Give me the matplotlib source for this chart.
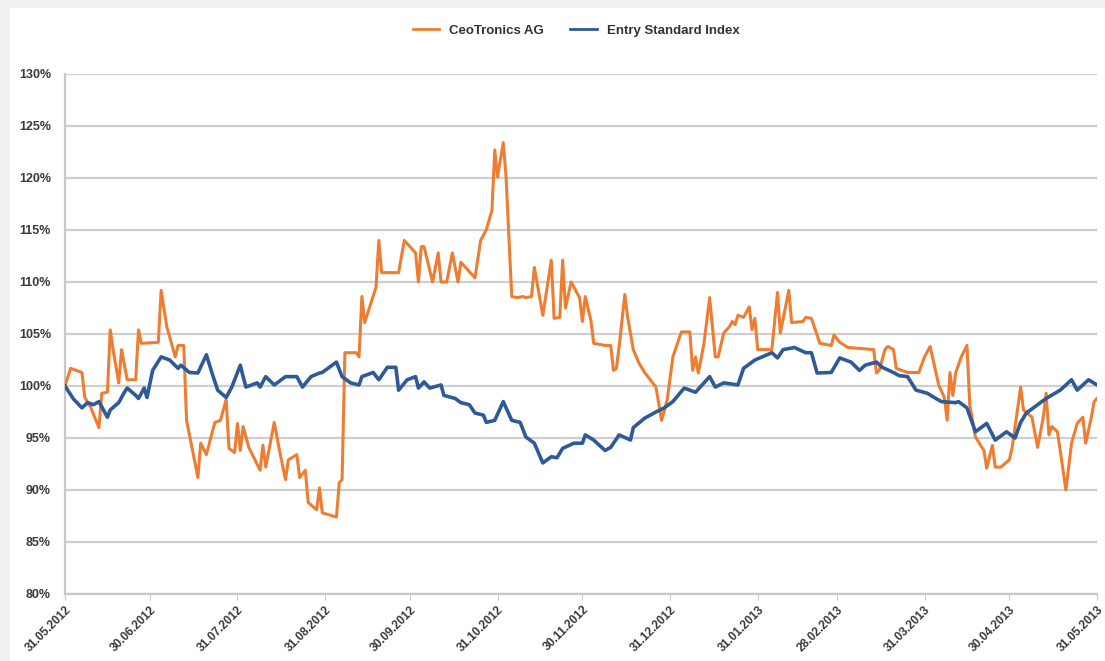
import numpy as np
import pandas as pd
import matplotlib
matplotlib.use("Agg")
import matplotlib.pyplot as plt
from matplotlib.patches import Rectangle

plt.rcParams['font.family'] = ['Liberation Sans', 'DejaVu Sans']

start = pd.Timestamp('2012-05-31')

# CeoTronics AG, days after 31.05.2012 and value in %
ceo_days = [0, 2, 6, 7, 9, 12, 13, 15, 16, 17, 19, 20, 22, 25, 26, 27, 33, 34, 36, 39,
            40, 42, 43, 47, 48, 50, 53, 55, 57, 58, 60, 61, 62, 63, 65, 69, 70, 71, 74, 76,
            78, 79, 82, 83, 85, 86, 89, 90, 91, 96, 97, 98, 99, 103, 104, 105, 106, 110, 111, 112,
            118, 120, 124, 125, 126, 127, 130, 132, 133, 135, 137, 139, 140, 145, 147, 149, 151, 152, 153, 155,
            156, 158, 160, 162, 163, 165, 166, 169, 172, 173, 175, 176, 177, 179, 182, 183, 184, 186, 187, 191,
            193, 194, 195, 196, 198, 199, 201, 203, 205, 209, 211, 213, 215, 218, 221, 222, 223, 224, 226, 228,
            230, 231, 233, 235, 236, 237, 238, 240, 242, 243, 244, 245, 250, 252, 253, 256, 257, 261, 262, 264,
            267, 271, 272, 274, 277, 286, 287, 288, 290, 291, 293, 294, 298, 302, 304, 306, 309, 311, 312, 313,
            314, 315, 317, 319, 320, 322, 325, 326, 328, 329, 331, 334, 335, 338, 339, 342, 344, 346, 347, 348,
            349, 351, 352, 354, 356, 358, 360, 361, 363, 364, 365]
ceo_vals = [100.0, 101.7, 101.3, 98.9, 98.0, 96.0, 99.3, 99.4, 105.4, 103.5, 100.3, 103.5, 100.6, 100.6, 105.4, 104.1, 104.2, 109.2, 105.7, 102.8,
            103.9, 103.9, 96.7, 91.2, 94.5, 93.4, 96.5, 96.7, 98.7, 94.0, 93.6, 96.4, 93.8, 96.1, 94.1, 91.9, 94.3, 92.2, 96.5, 93.6,
            91.0, 92.9, 93.4, 91.2, 91.9, 88.8, 88.1, 90.2, 87.8, 87.4, 90.7, 91.0, 103.2, 103.2, 102.8, 108.6, 106.1, 109.5, 114.0, 110.9,
            110.9, 114.0, 112.8, 110.0, 113.4, 113.4, 110.0, 112.8, 110.0, 110.0, 112.8, 110.0, 111.9, 110.4, 114.0, 115.0, 116.9, 122.7, 120.1, 123.4,
            120.1, 108.6, 108.5, 108.6, 108.5, 108.6, 111.4, 106.8, 112.1, 106.5, 106.6, 112.1, 107.5, 110.0, 108.5, 106.2, 108.6, 106.3, 104.1, 103.9,
            103.9, 101.5, 101.7, 103.8, 108.8, 106.6, 103.5, 102.2, 101.3, 99.9, 96.7, 98.7, 102.8, 105.2, 105.2, 101.5, 102.8, 101.25, 104.1, 108.5,
            102.8, 102.8, 105.1, 105.7, 106.2, 105.9, 106.8, 106.6, 107.6, 105.4, 106.5, 103.5, 103.5, 109.0, 105.1, 109.2, 106.1, 106.2, 106.6, 106.5,
            104.1, 103.9, 104.9, 104.2, 103.7, 103.5, 101.25, 101.5, 103.5, 103.8, 103.5, 101.7, 101.3, 101.3, 102.8, 103.8, 100.1, 98.9, 96.7, 101.3,
            99.1, 101.25, 102.8, 103.9, 98.2, 95.1, 93.8, 92.1, 94.3, 92.2, 92.2, 92.9, 94.1, 99.9, 97.7, 97.0, 94.1, 97.0, 99.3, 95.3,
            96.1, 95.6, 93.8, 90.0, 94.5, 96.4, 97.0, 94.5, 97.0, 98.5, 98.8]

# Entry Standard Index
esi_days = [0, 3, 6, 8, 10, 12, 15, 16, 19, 21, 22, 25, 26, 28, 29, 31, 34, 37, 40, 41,
            44, 47, 50, 52, 54, 57, 59, 62, 63, 64, 68, 69, 71, 74, 78, 82, 84, 87, 90, 91,
            96, 98, 101, 104, 105, 109, 111, 114, 117, 118, 121, 124, 125, 127, 129, 133, 134, 138, 140, 143,
            145, 148, 149, 152, 155, 158, 161, 163, 166, 169, 172, 174, 176, 180, 183, 184, 187, 191, 193, 196,
            200, 201, 205, 209, 212, 215, 219, 223, 228, 230, 233, 238, 240, 244, 250, 252, 254, 258, 262, 264,
            266, 271, 274, 278, 281, 283, 287, 289, 293, 295, 298, 301, 305, 308, 310, 315, 316, 319, 322, 326,
            329, 333, 336, 338, 340, 344, 347, 352, 356, 358, 362, 365]
esi_vals = [100.0, 98.75, 97.9, 98.4, 98.2, 98.5, 97.0, 97.7, 98.4, 99.4, 99.8, 99.1, 98.8, 99.8, 98.9, 101.5, 102.8, 102.5, 101.7, 102.0,
            101.3, 101.25, 103.0, 101.25, 99.6, 98.9, 99.9, 102.0, 100.9, 99.9, 100.3, 99.9, 100.9, 100.1, 100.9, 100.9, 99.9, 100.9, 101.25, 101.3,
            102.3, 100.9, 100.3, 100.1, 100.9, 101.3, 100.6, 101.8, 101.8, 99.6, 100.6, 100.9, 99.8, 100.4, 99.8, 100.1, 99.1, 98.8, 98.4, 98.2,
            97.4, 97.2, 96.5, 96.7, 98.5, 96.7, 96.5, 95.1, 94.5, 92.6, 93.2, 93.1, 94.0, 94.5, 94.5, 95.3, 94.8, 93.8, 94.1, 95.3,
            94.8, 96.0, 96.9, 97.5, 97.9, 98.5, 99.8, 99.4, 100.9, 99.9, 100.3, 100.1, 101.7, 102.5, 103.2, 102.7, 103.5, 103.7, 103.2, 103.2,
            101.25, 101.3, 102.7, 102.3, 101.5, 102.0, 102.3, 101.8, 101.3, 101.0, 100.9, 99.6, 99.3, 98.8, 98.5, 98.4, 98.5, 97.9, 95.6, 96.4,
            94.8, 95.6, 95.0, 96.5, 97.4, 98.2, 98.8, 99.6, 100.6, 99.6, 100.6, 100.1]

series_names = ['CeoTronics AG', 'Entry Standard Index']
tick_labels = ['31.05.2012', '30.06.2012', '31.07.2012', '31.08.2012', '30.09.2012', '31.10.2012',
               '30.11.2012', '31.12.2012', '31.01.2013', '28.02.2013', '31.03.2013', '30.04.2013', '31.05.2013']
y_ticks = [80, 85, 90, 95, 100, 105, 110, 115, 120, 125, 130]

ceo_x = start + pd.to_timedelta(ceo_days, unit='D')
esi_x = start + pd.to_timedelta(esi_days, unit='D')
tick_dates = pd.to_datetime(tick_labels, format='%d.%m.%Y')

fig = plt.figure(figsize=(11.05, 6.61), dpi=100, facecolor='#eef0f1')
fig.patches.append(Rectangle((10 / 1105, 0), 1, 1 - 8 / 661, transform=fig.transFigure,
                             facecolor='white', edgecolor='none', zorder=-5))
ax = fig.add_axes([65 / 1105, 1 - 594 / 661, 1032 / 1105, 520 / 661])
ax.set_facecolor('white')

ax.plot(ceo_x, ceo_vals, color='#ee7d31', lw=2.2, label=series_names[0], zorder=3)
ax.plot(esi_x, esi_vals, color='#2e5b97', lw=2.6, label=series_names[1], zorder=4)

ax.set_xlim(start, tick_dates[-1])
ax.set_ylim(80, 130)
ax.set_yticks(y_ticks)
ax.set_yticklabels([f'{v}%' for v in y_ticks], fontsize=9, fontweight='bold', color='#3a3a3a')
ax.set_xticks(tick_dates)
ax.set_xticklabels(tick_labels, rotation=45, ha='right', va='top', rotation_mode='anchor',
                   fontsize=8.5, fontweight='bold', color='#3a3a3a')
ax.tick_params(axis='y', length=0, pad=10)
ax.tick_params(axis='x', length=4, color='#c8c8c8', pad=3)

ax.grid(axis='y', color='#cfcfcf', lw=1.6)
ax.set_axisbelow(True)
for s in ['top', 'right']:
    ax.spines[s].set_visible(False)
for s in ['left', 'bottom']:
    ax.spines[s].set_color('#c8c8c8')
    ax.spines[s].set_linewidth(1.6)

leg = fig.legend(loc='center', bbox_to_anchor=(576 / 1105, 1 - 31 / 661), ncol=2, frameon=False,
                 prop={'size': 9.5, 'weight': 'bold'}, handlelength=2.0, handletextpad=0.75,
                 columnspacing=2.0)
for t in leg.get_texts():
    t.set_color('#333333')
for h in leg.legend_handles:
    h.set_linewidth(2.0)

fig.savefig('out.png', dpi=100, facecolor=fig.get_facecolor())
